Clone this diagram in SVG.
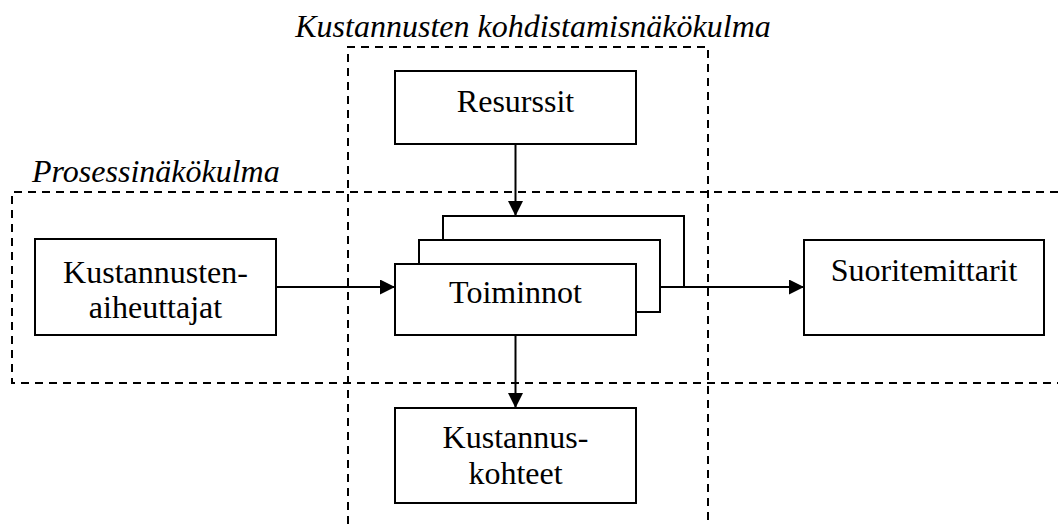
<svg xmlns="http://www.w3.org/2000/svg" width="1058" height="524" viewBox="0 0 1058 524">
<style>
.box{fill:#fff;stroke:#000;stroke-width:2}
.dash{fill:none;stroke:#000;stroke-width:2;stroke-dasharray:8 6}
.conn{fill:none;stroke:#000;stroke-width:2}
text{font-family:"Liberation Serif","Times New Roman",serif;font-size:32px;fill:#000;text-anchor:middle}
.it{font-style:italic}
</style>
<defs>
<marker id="arr" markerUnits="userSpaceOnUse" markerWidth="15" markerHeight="15" refX="15" refY="7.5" orient="auto">
<path d="M0,0 L15,7.5 L0,15 z" fill="#000"/>
</marker>
</defs>
<g id="perspectives">
<path class="dash" d="M348,524 L348,47 L708,47 L708,524"/>
<path class="dash" d="M1058,192 L12,192 L12,383 L1058,383"/>
<text class="it" x="533" y="37">Kustannusten kohdistamisnäkökulma</text>
<text class="it" x="32" y="182" style="text-anchor:start">Prosessinäkökulma</text>
</g>
<g id="connectors">
<line class="conn" x1="515.5" y1="144" x2="515.5" y2="216" marker-end="url(#arr)"/>
<line class="conn" x1="276" y1="287" x2="395" y2="287" marker-end="url(#arr)"/>
<line class="conn" x1="660" y1="287" x2="804" y2="287" marker-end="url(#arr)"/>
<line class="conn" x1="515.5" y1="335" x2="515.5" y2="408" marker-end="url(#arr)"/>
</g>
<g id="resurssit">
<rect class="box" x="395" y="71" width="241" height="73"/>
<text x="515.5" y="112">Resurssit</text>
</g>
<g id="toiminnot">
<rect class="box" x="443" y="216" width="241" height="71"/>
<rect class="box" x="419" y="240" width="241" height="72"/>
<rect class="box" x="395" y="264" width="241" height="71"/>
<text x="515.5" y="303">Toiminnot</text>
</g>
<g id="aiheuttajat">
<rect class="box" x="35" y="239" width="241" height="96"/>
<text x="155.5" y="283">Kustannusten-</text>
<text x="155.5" y="318">aiheuttajat</text>
</g>
<g id="suoritemittarit">
<rect class="box" x="804" y="240" width="240" height="95"/>
<text x="924" y="281">Suoritemittarit</text>
</g>
<g id="kohteet">
<rect class="box" x="395" y="408" width="241" height="95"/>
<text x="515.5" y="448">Kustannus-</text>
<text x="515.5" y="484">kohteet</text>
</g>
</svg>
